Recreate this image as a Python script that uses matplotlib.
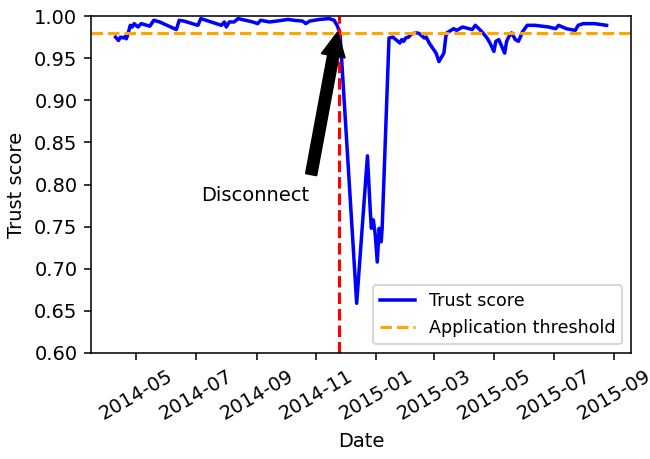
import pandas as pd
import matplotlib
matplotlib.use("Agg")
import matplotlib.pyplot as plt
import matplotlib.dates as mdates

# ── Data ──────────────────────────────────────────────────────────────────────
dates = [
    "2014-04-10", "2014-04-13", "2014-04-15", "2014-04-18", "2014-04-20",
    "2014-04-21", "2014-04-23", "2014-04-25", "2014-04-27", "2014-04-29",
    "2014-05-03", "2014-05-06", "2014-05-15", "2014-05-19", "2014-05-25",
    "2014-06-11", "2014-06-14", "2014-06-19", "2014-07-03", "2014-07-06",
    "2014-07-27", "2014-07-30", "2014-08-01", "2014-08-04", "2014-08-09",
    "2014-08-13", "2014-08-28", "2014-09-02", "2014-09-05", "2014-09-14",
    "2014-09-21", "2014-09-27", "2014-10-03", "2014-10-09", "2014-10-18",
    "2014-10-21", "2014-10-25", "2014-11-04", "2014-11-14", "2014-11-19",
    "2014-11-22", "2014-11-25", "2014-12-12", "2014-12-23", "2014-12-26",
    "2014-12-27", "2014-12-29", "2014-12-31", "2015-01-02", "2015-01-04",
    "2015-01-06", "2015-01-07", "2015-01-14", "2015-01-18", "2015-01-25",
    "2015-01-27", "2015-01-29", "2015-01-31", "2015-02-03", "2015-02-06",
    "2015-02-12", "2015-02-14", "2015-02-19", "2015-02-21", "2015-02-24",
    "2015-03-03", "2015-03-06", "2015-03-08", "2015-03-09", "2015-03-11",
    "2015-03-13", "2015-03-14", "2015-03-21", "2015-03-24", "2015-03-30",
    "2015-04-09", "2015-04-12", "2015-04-14", "2015-04-19", "2015-04-24",
    "2015-04-27", "2015-05-01", "2015-05-03", "2015-05-06", "2015-05-09",
    "2015-05-12", "2015-05-14", "2015-05-16", "2015-05-19", "2015-05-23",
    "2015-05-26", "2015-05-28", "2015-05-30", "2015-06-04", "2015-06-12",
    "2015-06-26", "2015-07-03", "2015-07-06", "2015-07-14", "2015-07-23",
    "2015-07-26", "2015-07-31", "2015-08-12", "2015-08-24",
]
trust = [
    0.975, 0.971, 0.975, 0.974, 0.976,
    0.973, 0.980, 0.989, 0.987, 0.991,
    0.987, 0.991, 0.988, 0.995, 0.993,
    0.984, 0.995, 0.994, 0.989, 0.997,
    0.989, 0.993, 0.987, 0.993, 0.993,
    0.997, 0.993, 0.991, 0.995, 0.993,
    0.994, 0.995, 0.996, 0.995, 0.994,
    0.991, 0.994, 0.996, 0.997, 0.995,
    0.989, 0.980, 0.659, 0.834, 0.766,
    0.748, 0.758, 0.740, 0.708, 0.748,
    0.732, 0.748, 0.974, 0.975, 0.968,
    0.972, 0.970, 0.974, 0.975, 0.979,
    0.980, 0.979, 0.974, 0.975, 0.968,
    0.956, 0.946, 0.950, 0.952, 0.956,
    0.976, 0.980, 0.985, 0.983, 0.987,
    0.984, 0.989, 0.987, 0.981, 0.974,
    0.968, 0.958, 0.970, 0.972, 0.964,
    0.956, 0.970, 0.975, 0.980, 0.972,
    0.970, 0.975, 0.981, 0.989, 0.989,
    0.987, 0.985, 0.989, 0.985, 0.983,
    0.989, 0.991, 0.991, 0.989,
]

THRESHOLD = 0.98
DISCONNECT = "2014-11-24"

dates = pd.to_datetime(dates)
disconnect = pd.Timestamp(DISCONNECT)

# ── Plot ──────────────────────────────────────────────────────────────────────
DPI = 140
fig, ax = plt.subplots(figsize=(650 / DPI, 459 / DPI), dpi=DPI)
fig.subplots_adjust(left=0.14, right=0.971, top=0.965, bottom=0.231)

ax.plot(dates, trust, color="blue", lw=1.8, label="Trust score")
ax.axhline(THRESHOLD, color="orange", lw=1.6, linestyle="--",
           label="Application threshold")
ax.axvline(disconnect, color="red", lw=1.6, linestyle="--")

# arrow from the label up to the disconnect point
ax.annotate("Disconnect", xy=(disconnect, 0.99),
            xytext=(pd.Timestamp("2014-07-06"), 0.78),
            arrowprops=dict(facecolor="black", shrink=0.05,
                            width=5.5, headwidth=12, headlength=12))

ax.set_ylim(0.60, 1.00)
ax.xaxis.set_major_locator(mdates.MonthLocator(bymonth=[1, 3, 5, 7, 9, 11]))
ax.xaxis.set_major_formatter(mdates.DateFormatter("%Y-%m"))
plt.setp(ax.get_xticklabels(), rotation=30)

ax.set_xlabel("Date")
ax.set_ylabel("Trust score")
ax.legend(loc="lower right", fontsize=9)

plt.savefig("out.png", dpi=DPI)
plt.close()
